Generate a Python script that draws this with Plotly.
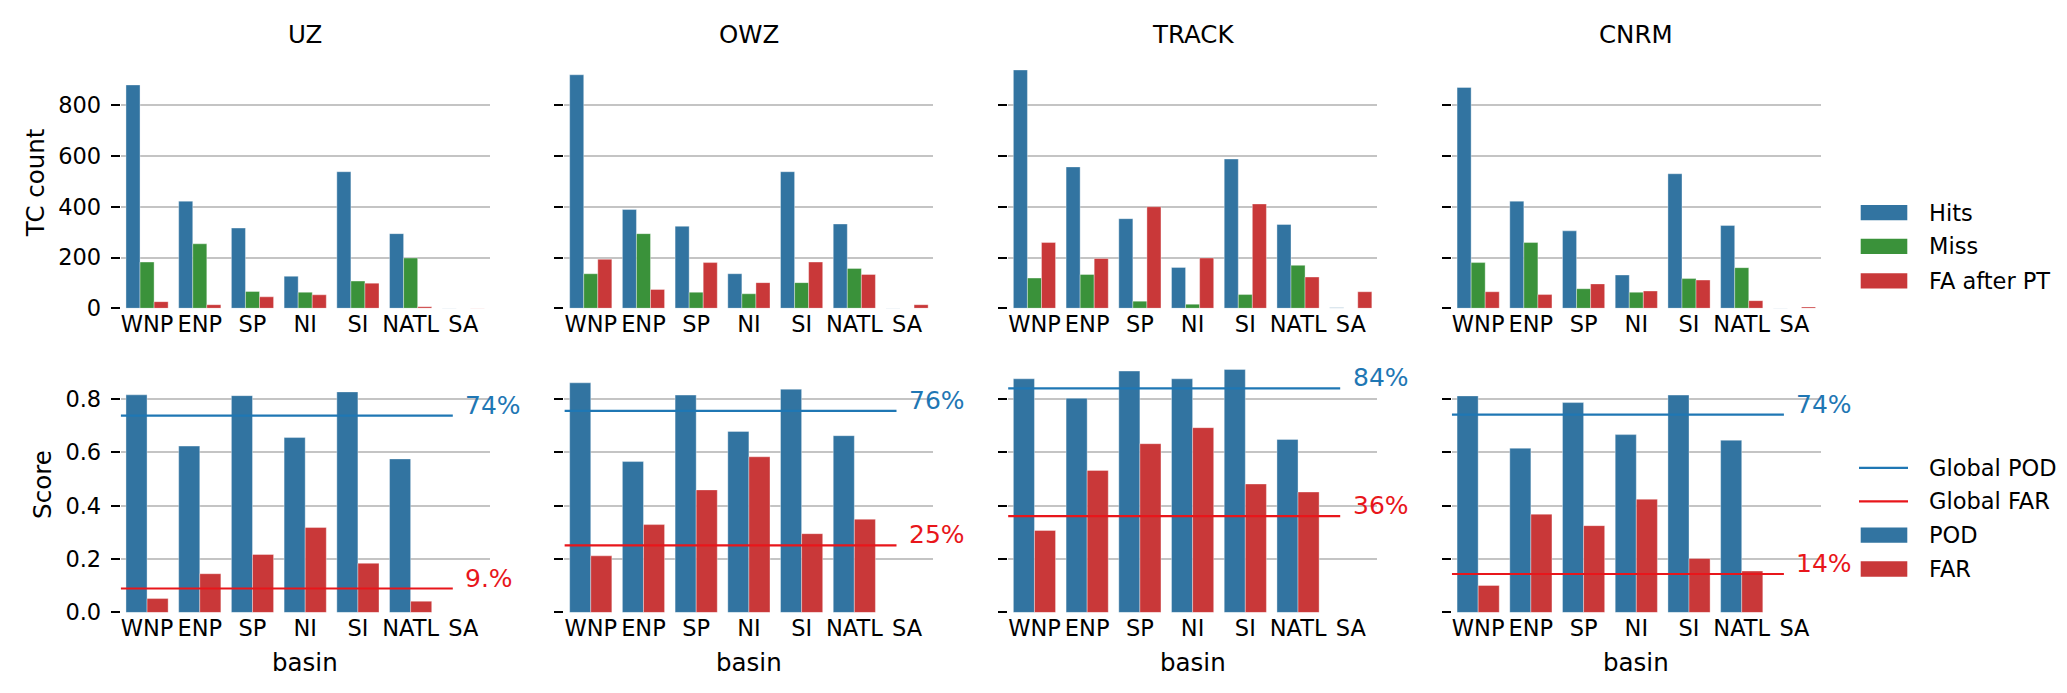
import plotly.graph_objects as go

W, H = 2067, 693

basins = ["WNP", "ENP", "SP", "NI", "SI", "NATL", "SA"]
models = ["UZ", "OWZ", "TRACK", "CNRM"]

# TC counts per basin
hits_uz = [880, 422, 316, 126, 538, 294, 1]
miss_uz = [182, 254, 66, 63, 107, 198, 0]
fa_uz = [26, 14, 45, 53, 99, 6, 1]

hits_owz = [920, 389, 323, 136, 538, 332, 1]
miss_owz = [136, 294, 63, 57, 101, 157, 0]
fa_owz = [193, 74, 180, 101, 182, 133, 14]

hits_track = [939, 557, 353, 161, 588, 330, 2]
miss_track = [119, 133, 28, 16, 54, 169, 0]
fa_track = [259, 196, 400, 198, 411, 123, 65]

hits_cnrm = [870, 422, 305, 131, 530, 326, 1]
miss_cnrm = [180, 259, 77, 63, 117, 160, 0]
fa_cnrm = [65, 54, 96, 68, 111, 30, 5]

# Scores per basin
pod_uz = [0.815, 0.623, 0.812, 0.655, 0.826, 0.575, None]
far_uz = [0.052, 0.145, 0.217, 0.318, 0.184, 0.042, None]
pod_owz = [0.860, 0.565, 0.814, 0.678, 0.836, 0.662, None]
far_owz = [0.212, 0.329, 0.459, 0.583, 0.295, 0.349, None]
pod_track = [0.875, 0.802, 0.904, 0.875, 0.910, 0.648, None]
far_track = [0.307, 0.532, 0.632, 0.692, 0.481, 0.451, None]
pod_cnrm = [0.811, 0.615, 0.786, 0.666, 0.814, 0.645, None]
far_cnrm = [0.101, 0.368, 0.325, 0.424, 0.202, 0.155, None]

global_pod = [0.737, 0.755, 0.839, 0.741]
global_far = [0.0896, 0.251, 0.361, 0.144]
pod_labels = ["74%", "76%", "84%", "74%"]
far_labels = ["9.%", "25%", "36%", "14%"]

count_ticks = [0, 200, 400, 600, 800]
score_ticks = [0.0, 0.2, 0.4, 0.6, 0.8]
score_ticktext = ["0.0", "0.2", "0.4", "0.6", "0.8"]

hits_all = [hits_uz, hits_owz, hits_track, hits_cnrm]
miss_all = [miss_uz, miss_owz, miss_track, miss_cnrm]
fa_all = [fa_uz, fa_owz, fa_track, fa_cnrm]
pod_all = [pod_uz, pod_owz, pod_track, pod_cnrm]
far_all = [far_uz, far_owz, far_track, far_cnrm]

C_BLUE = "#3274a1"
C_GREEN = "#3a923a"
C_RED = "#c93839"
L_BLUE = "#1f77b4"
L_RED = "#e8161b"
FONT = "DejaVu Sans"
GRID = "#c4c4c4"
TICK_SIZE = 22.5
LABEL_SIZE = 24.5
PCT_SIZE = 25
LEG_SIZE = 22.5

xpos = list(range(len(basins)))

# layout geometry (pixels)
panel_x0 = [112.7 + 443.7 * i for i in range(4)]
panel_w = 369.0
top_y = (51.0, 306.0)
bot_y = (356.0, 616.0)


def px_x(p):
    return p / W


def px_y(p):
    return 1 - p / H


fig = go.Figure()
layout = dict(
    width=W, height=H, margin=dict(l=0, r=0, t=0, b=0),
    paper_bgcolor="white", plot_bgcolor="white",
    barmode="group", bargap=0.2, bargroupgap=0.0,
    showlegend=False,
    font=dict(family=FONT, size=TICK_SIZE, color="black"),
)

edge = dict(color="rgba(255,255,255,0.45)", width=0.8)

for i, m in enumerate(models):
    xt = "x" if i == 0 else f"x{i + 1}"
    yt = "y" if i == 0 else f"y{i + 1}"
    xb = f"x{i + 5}"
    yb = f"y{i + 5}"
    fig.add_trace(go.Bar(x=xpos, y=hits_all[i], name="Hits", marker=dict(color=C_BLUE, line=edge),
                         xaxis=xt, yaxis=yt, offsetgroup="a"))
    fig.add_trace(go.Bar(x=xpos, y=miss_all[i], name="Miss", marker=dict(color=C_GREEN, line=edge),
                         xaxis=xt, yaxis=yt, offsetgroup="b"))
    fig.add_trace(go.Bar(x=xpos, y=fa_all[i], name="FA after PT", marker=dict(color=C_RED, line=edge),
                         xaxis=xt, yaxis=yt, offsetgroup="c"))
    fig.add_trace(go.Bar(x=xpos, y=pod_all[i], name="POD", marker=dict(color=C_BLUE, line=edge),
                         xaxis=xb, yaxis=yb, offsetgroup="a"))
    fig.add_trace(go.Bar(x=xpos, y=far_all[i], name="FAR", marker=dict(color=C_RED, line=edge),
                         xaxis=xb, yaxis=yb, offsetgroup="b"))
    # global lines span 90% of the axis width (axhline xmax=0.9)
    x_end = -0.5 + 0.9 * len(basins)
    fig.add_trace(go.Scatter(x=[-0.5, x_end], y=[global_pod[i]] * 2, mode="lines",
                             line=dict(color=L_BLUE, width=2.2), name="Global POD",
                             xaxis=xb, yaxis=yb, hoverinfo="skip"))
    fig.add_trace(go.Scatter(x=[-0.5, x_end], y=[global_far[i]] * 2, mode="lines",
                             line=dict(color=L_RED, width=2.2), name="Global FAR",
                             xaxis=xb, yaxis=yb, hoverinfo="skip"))

    dom_x = [px_x(panel_x0[i]), px_x(panel_x0[i] + panel_w)]
    xcommon = dict(domain=dom_x, range=[-0.5, 6.5], tickvals=xpos, ticktext=basins,
                   showgrid=False, zeroline=False, showline=False, ticks="",
                   tickfont=dict(family=FONT, size=TICK_SIZE, color="black"), fixedrange=True)
    ycommon = dict(showgrid=True, gridcolor=GRID, gridwidth=1.6, zeroline=False, showline=False,
                   ticks="outside", ticklen=9, tickwidth=2, tickcolor="black",
                   ticklabelstandoff=5,
                   tickfont=dict(family=FONT, size=TICK_SIZE, color="black"),
                   showticklabels=(i == 0), fixedrange=True)
    kx_t = "xaxis" if i == 0 else f"xaxis{i + 1}"
    ky_t = "yaxis" if i == 0 else f"yaxis{i + 1}"
    layout[kx_t] = dict(xcommon, anchor=yt)
    layout[ky_t] = dict(ycommon, anchor=xt, domain=[px_y(top_y[1]), px_y(top_y[0])],
                        range=[0, 986], tickvals=count_ticks)
    layout[f"xaxis{i + 5}"] = dict(xcommon, anchor=yb)
    layout[f"yaxis{i + 5}"] = dict(ycommon, anchor=xb, domain=[px_y(bot_y[1]), px_y(bot_y[0])],
                                   range=[0, 0.9555], tickvals=score_ticks, ticktext=score_ticktext)

fig.update_layout(**layout)

ann = []
for i, m in enumerate(models):
    cx = px_x(panel_x0[i] + panel_w / 2)
    xb = f"x{i + 5}"
    yb = f"y{i + 5}"
    ann.append(dict(text=m, x=cx, y=px_y(26.7), xref="paper", yref="paper", showarrow=False,
                    xanchor="center", yanchor="middle", font=dict(family=FONT, size=LABEL_SIZE, color="black")))
    ann.append(dict(text="basin", x=cx, y=px_y(667), xref="paper", yref="paper", showarrow=False,
                    xanchor="center", yanchor="middle", font=dict(family=FONT, size=LABEL_SIZE, color="black")))
    ann.append(dict(text=pod_labels[i], x=6.0, y=global_pod[i], xref=xb, yref=yb, showarrow=False,
                    xanchor="left", yanchor="bottom", yshift=-6,
                    font=dict(family=FONT, size=PCT_SIZE, color=L_BLUE)))
    ann.append(dict(text=far_labels[i], x=6.0, y=global_far[i], xref=xb, yref=yb, showarrow=False,
                    xanchor="left", yanchor="bottom", yshift=-6,
                    font=dict(family=FONT, size=PCT_SIZE, color=L_RED)))

ann.append(dict(text="TC count", x=px_x(27), y=px_y(178.5), xref="paper", yref="paper", showarrow=False,
                textangle=-90, xanchor="center", yanchor="middle",
                font=dict(family=FONT, size=LABEL_SIZE, color="black")))
ann.append(dict(text="Score", x=px_x(35), y=px_y(486), xref="paper", yref="paper", showarrow=False,
                textangle=-90, xanchor="center", yanchor="middle",
                font=dict(family=FONT, size=LABEL_SIZE, color="black")))

# legends (drawn manually to match patch sizes)
shapes = []
leg_top = [("Hits", C_BLUE, 208.6), ("Miss", C_GREEN, 243.0), ("FA after PT", C_RED, 278.0)]
leg_bot = [("Global POD", L_BLUE, 468.7, "line"), ("Global FAR", L_RED, 502.8, "line"),
           ("POD", C_BLUE, 537.2, "patch"), ("FAR", C_RED, 571.7, "patch")]
for name, col, yc in leg_top:
    shapes.append(dict(type="rect", xref="paper", yref="paper", x0=px_x(1852.7), x1=px_x(1899.3),
                       y0=px_y(yc + 7.8), y1=px_y(yc - 7.8), fillcolor=col, line=dict(width=0)))
    ann.append(dict(text=name, x=px_x(1919), y=px_y(yc), xref="paper", yref="paper", showarrow=False,
                    xanchor="left", yanchor="middle", font=dict(family=FONT, size=LEG_SIZE, color="black")))
for name, col, yc, kind in leg_bot:
    if kind == "line":
        shapes.append(dict(type="line", xref="paper", yref="paper", x0=px_x(1851), x1=px_x(1900),
                           y0=px_y(yc), y1=px_y(yc), line=dict(color=col, width=2.2)))
    else:
        shapes.append(dict(type="rect", xref="paper", yref="paper", x0=px_x(1852.7), x1=px_x(1899.3),
                           y0=px_y(yc + 7.8), y1=px_y(yc - 7.8), fillcolor=col, line=dict(width=0)))
    ann.append(dict(text=name, x=px_x(1919), y=px_y(yc), xref="paper", yref="paper", showarrow=False,
                    xanchor="left", yanchor="middle", font=dict(family=FONT, size=LEG_SIZE, color="black")))

fig.update_layout(annotations=ann, shapes=shapes)
fig.write_html("out.html")
